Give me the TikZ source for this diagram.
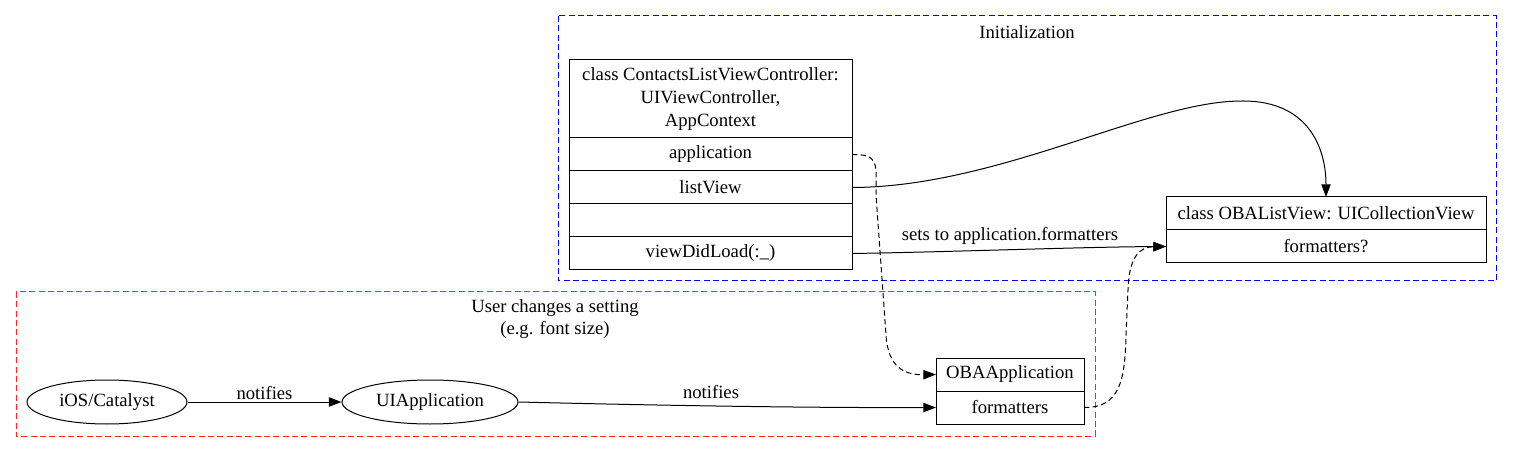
\documentclass[tikz,border=0pt]{standalone}
\usepackage{fontspec}
\setmainfont{Liberation Serif}
\usetikzlibrary{arrows.meta,positioning,shapes.geometric}

\begin{document}
\begin{tikzpicture}[x=0.75pt,y=-0.75pt]
\fontsize{14pt}{17pt}\selectfont
\tikzset{
    field/.style={draw, line width=0.75pt, inner sep=0pt, outer sep=0pt, minimum height=33*0.75pt, anchor=north},
    oval/.style={ellipse, draw, line width=0.75pt, inner sep=0pt, minimum height=44*0.75pt},
    cluster/.style={line width=0.75pt, dash pattern=on 4.5pt off 2.5pt},
    edge/.style={line width=0.75pt, -{Triangle[length=9.5pt,width=7pt]}},
    dashedge/.style={edge, dash pattern=on 4pt off 2.5pt},
    lbl/.style={inner sep=1pt},
}
\useasboundingbox (0,0) rectangle (1513,452);

% The two clusters first.
\draw[cluster, blue] (558,16) rectangle (1496,281);
\node (initTitle) at (1027,32) {Initialization};
\draw[cluster, red!85!white] (16,292) rectangle (1095,436);
\node[align=center] (userTitle) at (555,319) {User changes a setting\\(e.g. font size)};

% ContactsListViewController record.
\node[field, minimum width=283*0.75pt, minimum height=78*0.75pt, align=center] (clvc) at (710.5,60)
    {class ContactsListViewController:\\UIViewController,\\AppContext};
\node[field, minimum width=283*0.75pt, below=0pt of clvc] (app) {application};
\node[field, minimum width=283*0.75pt, below=0pt of app] (lv) {listView};
\node[field, minimum width=283*0.75pt, below=0pt of lv] (blank) {};
\node[field, minimum width=283*0.75pt, below=0pt of blank] (vdl) {viewDidLoad(:\_)};

% OBAListView record.
\node[field, minimum width=320*0.75pt] (olv) at (1326,197) {class OBAListView: UICollectionView};
\node[field, minimum width=320*0.75pt, below=0pt of olv] (olvf) {formatters?};

% OBAApplication record.
\node[field, minimum width=148*0.75pt] (oba) at (1010,358) {OBAApplication};
\node[field, minimum width=148*0.75pt, below=0pt of oba] (obaf) {formatters};

% The two ellipses.
\node[oval, minimum width=160*0.75pt] (ios) at (107,402) {iOS/Catalyst};
\node[oval, minimum width=176*0.75pt] (uiapp) at (430,402) {UIApplication};

% Solid edges.
\draw[edge] (ios) -- node[lbl, above] (notA) {notifies} (uiapp);
\draw[edge] (uiapp.east) .. controls (640,405) and (800,408) .. (obaf.west);
\node[lbl] (notB) at (711,392) {notifies};
\draw[edge] (lv.east) .. controls (1000,187) and (1150,100) .. (1243,101)
    .. controls (1310,101) and (1326,150) .. (olv.north);
\draw[edge] (vdl.east) .. controls (950,252) and (1080,247) .. (olvf.west);
\node[lbl] (sets) at (1010,236) {sets to application.formatters};

% Dashed edges.
\draw[dashedge] (app.east) .. controls (880,154) and (876,165) .. (876,195)
    -- (886,335) .. controls (888,368) and (905,375) .. (oba.west);
\draw[dashedge] (obaf.east) .. controls (1120,408) and (1125,380) .. (1126,335)
    -- (1128,290) .. controls (1129,256) and (1140,247) .. (olvf.west);
\end{tikzpicture}
\end{document}
